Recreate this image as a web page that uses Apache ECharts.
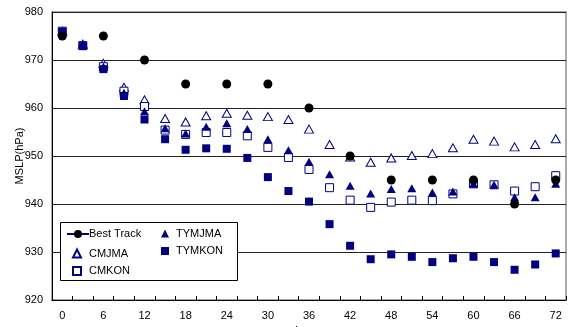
<!DOCTYPE html>
<html><head><meta charset="utf-8">
<script src="https://cdn.jsdelivr.net/npm/echarts@6/dist/echarts.min.js"></script>
<style>html,body{margin:0;padding:0;background:#fff}#c{width:568px;height:327px}</style>
</head><body><div id="c"></div>
<script>
const hours = [0,3,6,9,12,15,18,21,24,27,30,33,36,39,42,45,48,51,54,57,60,63,66,69,72];
const bestTrack = [975,null,975,null,970,null,965,null,965,null,965,null,960,null,950,null,945,null,945,null,945,null,940,null,945];
const cmjma = [976,973.3,969.3,964.3,961.7,957.8,957.1,958.4,958.9,958.5,958.2,957.6,955.6,952.4,949.8,948.7,949.6,950.1,950.5,951.7,953.5,953.1,951.9,952.4,953.6];
const cmkon = [976,973,968.6,963.5,960.3,955.4,954.5,954.9,954.9,954.2,951.8,949.7,947.2,943.4,940.8,939.3,940.4,940.8,940.7,942.1,944.2,944.0,942.7,943.6,945.9];
const tymjma = [976,973.2,968.6,963.2,959.3,955.8,954.7,956.1,956.8,955.6,953.5,951.2,948.8,946.2,943.8,942.2,943.1,943.3,942.4,942.6,944.2,944.0,941.4,941.4,944.2];
const tymkon = [975.9,972.9,968.1,962.5,957.6,953.5,951.3,951.6,951.5,949.6,945.6,942.7,940.5,935.8,931.3,928.5,929.5,929.0,927.9,928.7,929.0,927.9,926.3,927.4,929.7];
const yTicks = {min: 920, max: 980, interval: 10};

const NAVY = '#000080';
const FONT = 'Liberation Sans, Arial, sans-serif';
const legendText = {color: '#000', fontSize: 11, fontFamily: FONT};
const chart = echarts.init(document.getElementById('c'), null, {renderer: 'canvas'});
chart.setOption({
  animation: false,
  textStyle: {fontFamily: FONT},
  grid: {left: 52, right: 2, top: 12, bottom: 27, containLabel: false, outerBoundsMode: 'none',
         show: true, borderColor: '#909090', borderWidth: 1.5, backgroundColor: '#fff'},
  xAxis: {
    type: 'category', data: hours, boundaryGap: true,
    name: 'hours', nameLocation: 'middle', nameGap: 25, nameMoveOverlap: false,
    nameTextStyle: {color: '#000', fontSize: 11, fontFamily: FONT},
    axisLine: {lineStyle: {color: '#000', width: 1}},
    axisTick: {show: true, inside: true, length: 4, interval: 0, lineStyle: {color: '#000'}},
    axisLabel: {interval: 1, color: '#000', fontSize: 11, margin: 10, fontFamily: FONT},
    splitLine: {show: false}
  },
  yAxis: {
    type: 'value', min: yTicks.min, max: yTicks.max, interval: yTicks.interval,
    name: 'MSLP(hPa)', nameLocation: 'middle', nameGap: 27, nameRotate: 90, nameMoveOverlap: false,
    nameTextStyle: {color: '#000', fontSize: 11, fontFamily: FONT},
    axisLine: {show: true, lineStyle: {color: '#000', width: 1}},
    axisTick: {show: false},
    axisLabel: {color: '#000', fontSize: 11, margin: 9, fontFamily: FONT},
    splitLine: {show: true, lineStyle: {color: '#222', width: 1}}
  },
  legend: [
    {
      data: ['Best Track'], orient: 'vertical', left: 66, top: 228.5,
      itemWidth: 22, itemHeight: 10, itemGap: 6.5,
      textStyle: Object.assign({padding: [0,0,0,-5]}, legendText),
      padding: 0, selectedMode: false
    },
    {
      data: ['CMJMA', 'CMKON'], orient: 'vertical', left: 72, top: 248,
      itemWidth: 8, itemHeight: 8, itemGap: 6.5,
      textStyle: Object.assign({padding: [0,0,0,3]}, legendText),
      padding: 0, selectedMode: false
    },
    {
      data: ['TYMJMA', 'TYMKON'], orient: 'vertical', left: 161, top: 228,
      itemWidth: 8, itemHeight: 8, itemGap: 6.5,
      textStyle: Object.assign({padding: [0,0,0,2]}, legendText),
      padding: 0, selectedMode: false
    }
  ],
  graphic: [{
    type: 'rect', left: 60, top: 222, z: 2,
    shape: {width: 177, height: 58},
    style: {fill: '#fff', stroke: '#000', lineWidth: 1}
  }],
  series: [
    {name: 'Best Track', type: 'line', data: bestTrack, connectNulls: false,
     symbol: 'circle', symbolSize: 9, showSymbol: true,
     itemStyle: {color: '#000', opacity: 1}, lineStyle: {color: NAVY, width: 1}},
    {name: 'CMJMA', type: 'scatter', data: cmjma, symbol: 'triangle', symbolSize: [9, 8],
     itemStyle: {color: '#fff', borderColor: NAVY, borderWidth: 1, opacity: 1}},
    {name: 'CMKON', type: 'scatter', data: cmkon, symbol: 'rect', symbolSize: 8,
     itemStyle: {color: '#fff', borderColor: NAVY, borderWidth: 1, opacity: 1}},
    {name: 'TYMJMA', type: 'scatter', data: tymjma, symbol: 'triangle', symbolSize: [9, 8],
     itemStyle: {color: NAVY, opacity: 1}},
    {name: 'TYMKON', type: 'scatter', data: tymkon, symbol: 'rect', symbolSize: 8,
     itemStyle: {color: NAVY, opacity: 1}}
  ]
});
</script></body></html>
